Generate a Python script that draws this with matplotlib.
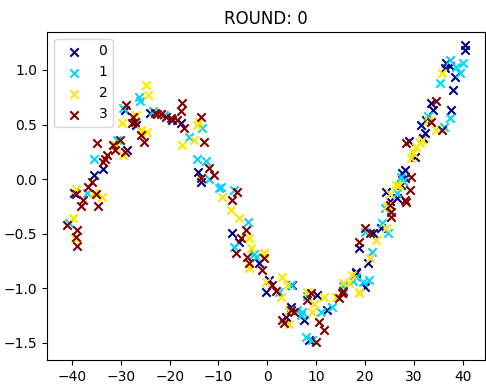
import numpy as np
import matplotlib
matplotlib.use("Agg")
import matplotlib.pyplot as plt

labels = ["0", "1", "2", "3"]

# class 0 (x, y)
x0 = [-39.5, -33.7, -35.6, -29.2, -26.8, -24.0, -19.5, -28.8, -17.6, -14.1, -13.5,
      -7.2, -5.8, -1.7, 0.3, -0.3, 4.8, 3.8, 7.5, 10.1, 12.2, 18.1, 8.5, 5.0,
      27.5, 28.3, 24.4, 26.5, 23.2, 21.6, 18.7, 20.7, 18.1, 20.1,
      34.0, 33.5, 32.4, 31.9, 29.0, 30.3, 28.3, 27.3, 25.2,
      40.5, 40.5, 36.7, 37.5, 36.3, 38.5, 38.1, 37.7, 32.6, 31.5]
y0 = [-0.13, 0.09, 0.04, 0.63, 0.50, 0.61, 0.54, 0.27, 0.51, 0.07, -0.03,
      -0.49, -0.58, -0.77, -0.92, -1.03, -1.17, -1.26, -1.29, -1.06, -1.20, -0.86, -1.47, -0.97,
      0.06, 0.01, -0.12, -0.17, -0.45, -0.49, -0.63, -0.77, -0.85, -0.99,
      0.63, 0.70, 0.42, 0.38, 0.35, 0.20, 0.08, -0.05, -0.20,
      1.23, 1.18, 1.06, 1.04, 1.02, 0.94, 0.82, 0.63, 0.54, 0.50]

# class 1
x1 = [-30.8, -35.6, -37.0, -40.7, -26.2, -26.0, -29.6, -21.1, -23.5, -14.4, -12.5,
      -13.3, -16.0, -9.4, -12.0, -9.9, -6.8, -3.9, -6.8, -2.3, -2.7, 2.4, 6.1, 6.9,
      7.9, 4.8, 7.1, 8.1, 11.0, 13.2, 15.6, 18.1, 19.7, 9.2,
      26.5, 24.2, 23.4, 24.8, 20.1, 21.4, 20.9, 17.5, 15.6, 27.3, 27.7,
      40.1, 37.5, 38.7, 39.5, 35.4, 37.5, 36.1, 33.0]
y1 = [0.36, 0.18, -0.13, -0.40, 0.75, 0.72, 0.65, 0.59, 0.62, 0.18, 0.17,
      0.47, 0.39, -0.07, 0.00, -0.08, -0.10, -0.39, -0.62, -0.71, -0.69, -1.03, -1.20, -1.24,
      -1.45, -0.97, -1.22, -1.07, -1.22, -1.17, -1.04, -0.90, -0.94, -1.47,
      -0.13, -0.26, -0.40, -0.49, -0.48, -0.67, -0.92, -0.93, -0.98, 0.02, -0.02,
      1.06, 1.09, 1.03, 0.97, 0.88, 0.56, 0.48, 0.58]

# class 2
x2 = [-39.2, -35.4, -33.9, -39.8, -39.4, -24.9, -24.5, -26.8, -29.7, -25.8, -24.7,
      -29.6, -31.0, -21.8, -14.4, -17.4, -15.0, -14.0, -9.2, -7.4, -5.8, -3.7, -3.3,
      -3.7, -3.7, 3.0, -0.3, 4.0, 2.8, 8.1, 4.4, -0.6, 11.6, 9.5, 9.1, 14.0, 16.7,
      18.7, 4.5, 26.9, 25.2, 24.3, 22.2, 21.1, 17.3, 15.5, 18.8, 31.3, 30.5, 29.9,
      29.5, 31.7, 33.6, 34.6, 26.3, 24.6, 35.7, 33.0]
y2 = [-0.09, -0.13, -0.16, -0.36, -0.54, 0.86, 0.77, 0.59, 0.51, 0.45, 0.43,
      0.22, 0.31, 0.60, 0.50, 0.31, 0.36, 0.52, -0.16, -0.28, -0.36, -0.54, -0.63,
      -0.77, -0.81, -0.90, -0.94, -0.97, -1.08, -1.03, -1.33, -0.68, -1.08, -1.14, -1.22, -1.08, -0.95,
      -1.04, -1.21, -0.05, -0.14, -0.45, -0.56, -0.72, -0.88, -0.95, -1.03, 0.33, 0.29, 0.24,
      0.19, 0.36, 0.52, 0.45, -0.05, -0.25, 0.97, 0.54]

# class 3
x3 = [-34.8, -31.3, -32.9, -33.7, -36.0, -36.8, -39.2, -37.8, -38.2, -35.0, -34.7,
      -41.1, -39.0, -39.2, -39.0, -29.0, -27.6, -27.8, -27.2, -25.8, -25.2, -23.1,
      -22.5, -21.7, -20.7, -19.7, -18.6, -30.1, -31.7, -29.2, -33.3, -17.4, -17.6,
      -17.0, -13.5, -12.9, -11.9, -10.9, -13.5, -6.2, -7.2, -4.3, -5.4, -6.4, -4.1,
      -0.7, -3.7, -1.1, 1.0, 1.8, 8.1, 4.8, 3.0, 3.4, 5.4, 8.9, 14.6, 15.3, 10.5,
      11.6, 9.9, 28.3, 25.2, 25.4, 25.4, 20.1, 21.1, 18.7, 15.6, 34.6, 33.6, 35.7,
      28.5, 29.5, 29.3, 28.5]
y3 = [0.33, 0.27, 0.22, 0.16, -0.03, -0.07, -0.14, -0.19, -0.25, -0.14, -0.25,
      -0.42, -0.47, -0.53, -0.61, 0.68, 0.57, 0.51, 0.52, 0.40, 0.34, 0.61,
      0.60, 0.60, 0.57, 0.56, 0.54, 0.36, 0.31, 0.25, 0.18, 0.70, 0.62,
      0.47, 0.57, 0.34, 0.10, 0.04, 0.01, -0.12, -0.19, -0.47, -0.54, -0.68, -0.71,
      -0.72, -0.77, -0.83, -0.97, -1.02, -1.11, -1.20, -1.29, -1.32, -1.22, -1.04, -1.09, -1.04, -1.31,
      -1.38, -1.49, -0.19, -0.24, -0.30, -0.35, -0.45, -0.49, -0.58, -1.02, 0.72, 0.52, 0.45,
      0.33, 0.02, -0.10, -0.21]

xs = [x0, x1, x2, x3]
ys = [y0, y1, y2, y3]
colors = plt.cm.jet(np.linspace(0, 1, 4))

fig, ax = plt.subplots(figsize=(4.86, 3.85), dpi=100)
fig.subplots_adjust(left=0.097, right=0.998, top=0.917, bottom=0.065)

for x, y, c, lab in zip(xs, ys, colors, labels):
    ax.scatter(x, y, marker="x", color=c, label=lab)

ax.set_title("ROUND: 0")
ax.set_xlim(-45.1, 44.6)
ax.set_ylim(-1.656, 1.348)
ax.set_xticks(np.arange(-40, 41, 10))
ax.set_yticks([-1.5, -1.0, -0.5, 0.0, 0.5, 1.0])
ax.legend(loc="upper left")

fig.savefig("out.png")
